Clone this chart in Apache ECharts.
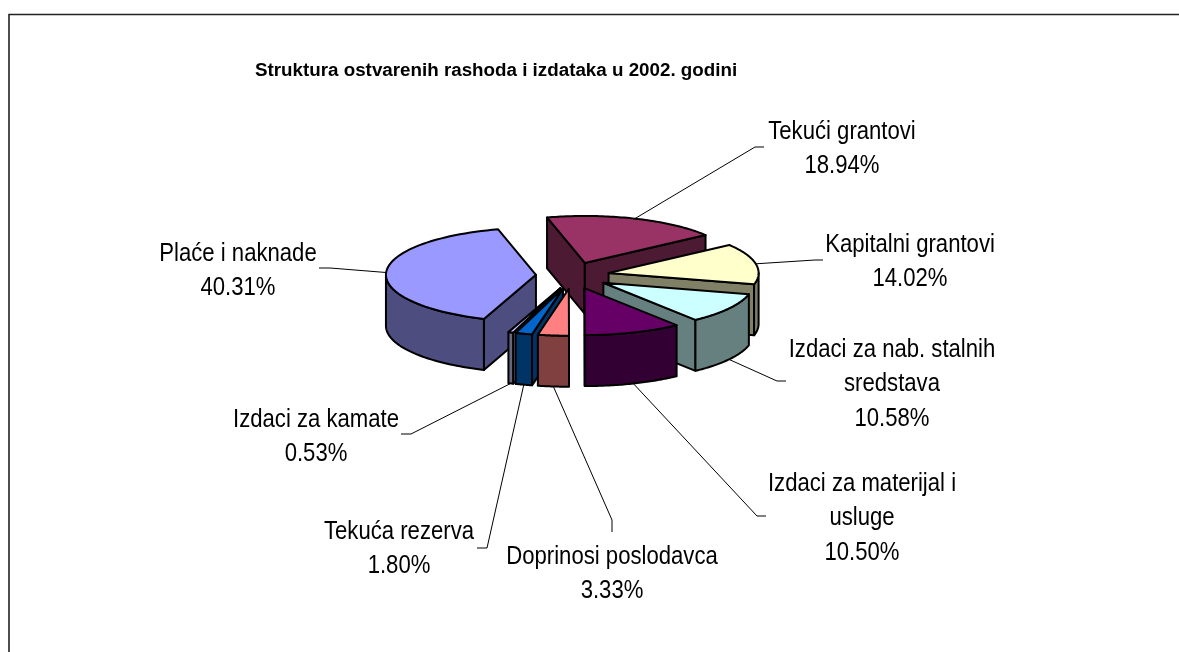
<!DOCTYPE html>
<html>
<head>
<meta charset="utf-8">
<title>Struktura ostvarenih rashoda i izdataka</title>
<style>
    html, body { margin: 0; padding: 0; background: #fff; }
    #main { width: 1179px; height: 652px; }
</style>
<script src="https://cdn.jsdelivr.net/npm/echarts@6/dist/echarts.min.js"></script>
</head>
<body>
<div id="main"></div>
<script>
var chartTitle = "Struktura ostvarenih rashoda i izdataka u 2002. godini";
// clockwise from the first slice
var categories = ["Tekući grantovi", "Kapitalni grantovi", "Izdaci za nab. stalnih sredstava", "Izdaci za materijal i usluge",
        "Doprinosi poslodavca", "Tekuća rezerva", "Izdaci za kamate", "Plaće i naknade"];
var shares = [18.94, 14.02, 10.58, 10.50, 3.33, 1.80, 0.53, 40.31];
var labelLines = [["Tekući grantovi"], ["Kapitalni grantovi"], ["Izdaci za nab. stalnih", "sredstava"], ["Izdaci za materijal i", "usluge"],
        ["Doprinosi poslodavca"], ["Tekuća rezerva"], ["Izdaci za kamate"], ["Plaće i naknade"]];
var topColors = ["#993366", "#FFFFCC", "#CCFFFF", "#660066", "#FF8080", "#0066CC", "#CCCCFF", "#9999FF"];
var sideColors = ["#4D1A33", "#808066", "#668080", "#330033", "#804040", "#003366", "#666680", "#4D4D80"];

// pie geometry
var pie = { cx : 572.6, cy : 275.5, rx : 150, ry : 47, depth : 51, explodeX : 36.7, explodeY : 13.3, firstAngle : 345.4 };
// where each label sits: centre x, y of first line, then the two leader points
var labelPlaces = [
    { x : 842, y : 132, elbow : [755, 147], end : [764, 147] },
    { x : 910, y : 245, elbow : [815, 260], end : [823, 260] },
    { x : 892, y : 350, elbow : [777, 381], end : [786, 381] },
    { x : 862, y : 484, elbow : [757, 516], end : [766, 516] },
    { x : 612, y : 557, elbow : [612, 520], end : [612, 532] },
    { x : 399, y : 532, elbow : [487, 548], end : [477, 548] },
    { x : 316, y : 420, elbow : [411, 434], end : [401, 434] },
    { x : 238, y : 254, elbow : [330, 268], end : [319, 268] }
];
var lineStep = 34.5;
var labelFont = "Liberation Sans";

function rad(deg) {
    return deg * Math.PI / 180;
}

var total = 0;
for (var i = 0; i < shares.length; i++) {
    total += shares[i];
}
var slices = [];
var angle = pie.firstAngle;
for (var i = 0; i < shares.length; i++) {
    var sweep = shares[i] / total * 360;
    var mid = angle + sweep / 2;
    slices.push({
        index : i,
        start : angle,
        end : angle + sweep,
        mid : mid,
        x : pie.cx + pie.explodeX * Math.sin(rad(mid)),
        y : pie.cy - pie.explodeY * Math.cos(rad(mid))
    });
    angle += sweep;
}
// back slices are painted first
var paintOrder = slices.slice().sort(function(a, b) {
    return a.y - b.y;
});

function rimPoint(s, deg, drop) {
    return [s.x + pie.rx * Math.sin(rad(deg)), s.y - pie.ry * Math.cos(rad(deg)) + drop];
}

function face(points, fill) {
    return {
        type : 'polygon',
        shape : { points : points },
        style : { fill : fill, stroke : '#000', lineWidth : 2, lineJoin : 'round' }
    };
}

function renderSlice(params, api) {
    var s = slices[api.value(0)];
    var top = topColors[s.index];
    var side = sideColors[s.index];
    var children = [];
    var apex = [s.x, s.y];
    var apexLow = [s.x, s.y + pie.depth];
    // cut faces, skip the ones turned away from the viewer
    if (Math.sin(rad(s.start)) < 0) {
        children.push(face([apex, rimPoint(s, s.start, 0), rimPoint(s, s.start, pie.depth), apexLow], side));
    }
    if (Math.sin(rad(s.end)) > 0) {
        children.push(face([apex, rimPoint(s, s.end, 0), rimPoint(s, s.end, pie.depth), apexLow], side));
    }
    // outer wall, only the part that faces the viewer
    var wallFrom = Math.max(s.start, 90), wallTo = Math.min(s.end, 270);
    if (s.start > 360) {
        wallFrom = Math.max(s.start, 450);
        wallTo = Math.min(s.end, 630);
    }
    if (wallTo > wallFrom) {
        var upper = [], lower = [];
        for (var k = 0; k <= 48; k++) {
            var a = wallFrom + (wallTo - wallFrom) * k / 48;
            upper.push(rimPoint(s, a, 0));
            lower.unshift(rimPoint(s, a, pie.depth));
        }
        children.push(face(upper.concat(lower), side));
    }
    // top face
    var topPoints = [apex];
    for (var k = 0; k <= 64; k++) {
        topPoints.push(rimPoint(s, s.start + (s.end - s.start) * k / 64, 0));
    }
    children.push(face(topPoints, top));
    // leader line
    var facing = Math.cos(rad(s.mid)) < 0;
    var place = labelPlaces[s.index];
    children.push({
        type : 'polyline',
        shape : { points : [rimPoint(s, s.mid, facing ? pie.depth : 0), place.elbow, place.end] },
        style : { fill : null, stroke : '#000', lineWidth : 1 }
    });
    // label
    var lines = labelLines[s.index].concat([shares[s.index].toFixed(2) + "%"]);
    for (var k = 0; k < lines.length; k++) {
        children.push({
            type : 'text',
            x : place.x,
            y : place.y + k * lineStep,
            scaleX : 0.885,
            style : {
                text : lines[k],
                fill : '#000',
                fontFamily : labelFont,
                fontSize : 25,
                align : 'center',
                verticalAlign : 'middle'
            }
        });
    }
    return { type : 'group', children : children };
}

var sliceData = paintOrder.map(function(s) {
    return { name : categories[s.index], value : [s.index, shares[s.index]] };
});

var chart = echarts.init(document.getElementById('main'), null, { renderer : 'canvas' });
chart.setOption({
    animation : false,
    backgroundColor : '#fff',
    title : {
        text : chartTitle,
        left : 255,
        top : 61,
        padding : 0,
        textStyle : { fontFamily : labelFont, fontSize : 18.8, fontWeight : 'bold', color : '#000' }
    },
    graphic : [ {
        type : 'polyline',
        silent : true,
        shape : { points : [[9, 652], [9, 14.5], [1179, 14.5]] },
        style : { fill : null, stroke : '#222', lineWidth : 1.6 }
    } ],
    series : [ {
        type : 'custom',
        coordinateSystem : 'none',
        silent : true,
        renderItem : renderSlice,
        data : sliceData
    } ]
});
</script>
</body>
</html>
